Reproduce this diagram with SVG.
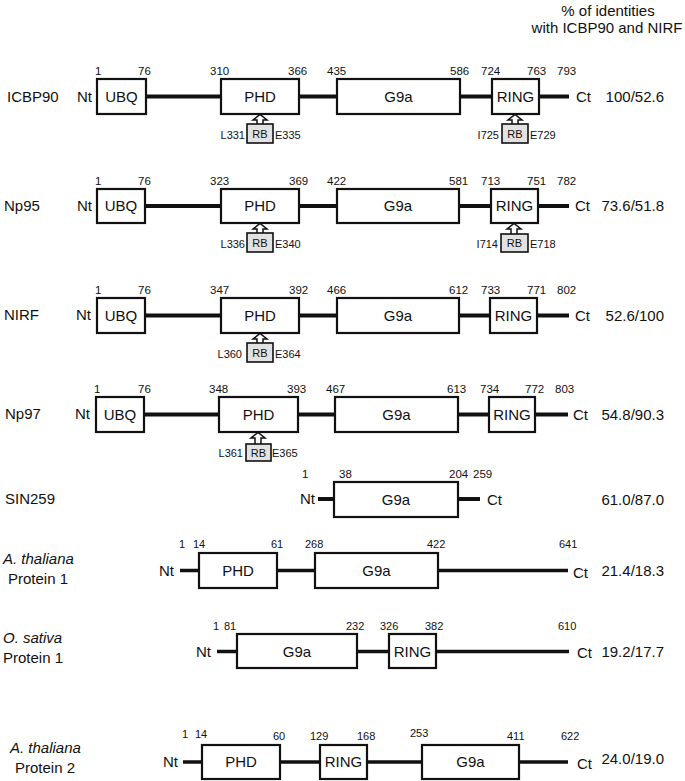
<svg xmlns="http://www.w3.org/2000/svg" width="685" height="781" viewBox="0 0 685 781">
<style>
text{font-family:"Liberation Sans",Arial,Helvetica,sans-serif;fill:#111}
.lbl{font-size:15px}
.dom{font-size:15px;text-anchor:middle}
.num{font-size:11.5px;fill:#222}
.nums{font-size:11px;fill:#222}
.rbt{font-size:11px}
.rbi{font-size:11px;text-anchor:middle}
.rat{font-size:15px;text-anchor:end}
.it{font-style:italic}
.box{fill:#fff;stroke:#111;stroke-width:2.2}
.rb{fill:#e2e2e2;stroke:#111;stroke-width:1.6}
.bb{stroke:#111;stroke-width:4.2;fill:none}
.bb2{stroke:#111;stroke-width:3.4;fill:none}
.arr{fill:#fff;stroke:#111;stroke-width:1.5;stroke-linejoin:miter}
</style>

<text class="lbl" x="608" y="16" text-anchor="middle">% of identities</text>
<text class="lbl" x="607" y="33" text-anchor="middle">with ICBP90 and NIRF</text>

<g id="connectors">
  <line class="bb" x1="146" y1="96.5" x2="569" y2="96.5"/>
  <line class="bb" x1="145" y1="206" x2="569" y2="206"/>
  <line class="bb" x1="145" y1="315.5" x2="569" y2="315.5"/>
  <line class="bb" x1="144" y1="414.5" x2="568" y2="414.5"/>
  <line class="bb" x1="318" y1="499" x2="480" y2="499"/>
  <line class="bb2" x1="180" y1="570.5" x2="568" y2="570.5"/>
  <line class="bb2" x1="217" y1="651.5" x2="569" y2="651.5"/>
  <line class="bb2" x1="183" y1="762" x2="568" y2="762"/>
  <path class="arr" d="M257,124 V120 H253 L260,114.5 L267,120 H263 V124"/>
  <path class="arr" d="M512,124 V120 H508 L515,114.5 L522,120 H518 V124"/>
  <path class="arr" d="M257,233 V229 H253 L260,223.5 L267,229 H263 V233"/>
  <path class="arr" d="M511,234 V229 H507 L514,223.5 L521,229 H517 V234"/>
  <path class="arr" d="M257,343 V339 H253 L260,333.5 L267,339 H263 V343"/>
  <path class="arr" d="M255,444 V438 H251 L258,432.5 L265,438 H261 V444"/>
</g>

<g id="row-icbp90">
  <text class="lbl" x="7" y="102">ICBP90</text>
  <text class="lbl" x="77" y="102">Nt</text>
  <g id="icbp90-ubq"><rect class="box" x="97" y="79" width="49" height="35"/><text class="dom" x="121.5" y="102">UBQ</text></g>
  <g id="icbp90-phd"><rect class="box" x="221" y="79" width="78" height="35"/><text class="dom" x="260" y="102">PHD</text></g>
  <g id="icbp90-g9a"><rect class="box" x="337" y="79" width="123" height="35"/><text class="dom" x="398.5" y="102">G9a</text></g>
  <g id="icbp90-ring"><rect class="box" x="492" y="79" width="47" height="35"/><text class="dom" x="515.5" y="102">RING</text></g>
  <text class="lbl" x="576" y="102">Ct</text>
  <text class="rat" x="664" y="102">100/52.6</text>
  <g class="num">
    <text x="95" y="75">1</text><text x="138" y="75">76</text><text x="210" y="75">310</text><text x="288" y="75">366</text><text x="327" y="75">435</text>
    <text x="450" y="75">586</text><text x="481" y="75">724</text><text x="527" y="75">763</text><text x="557" y="75">793</text>
  </g>
  <g id="icbp90-rb1"><rect class="rb" x="247" y="124" width="26" height="19"/><text class="rbi" x="260" y="138">RB</text></g>
  <text class="rbt" x="245" y="139" text-anchor="end">L331</text><text class="rbt" x="275" y="139">E335</text>
  <g id="icbp90-rb2"><rect class="rb" x="502" y="124" width="26" height="19"/><text class="rbi" x="515" y="138">RB</text></g>
  <text class="rbt" x="499" y="139" text-anchor="end">I725</text><text class="rbt" x="530" y="139">E729</text>
</g>

<g id="row-np95">
  <text class="lbl" x="4" y="211">Np95</text>
  <text class="lbl" x="77" y="211">Nt</text>
  <g id="np95-ubq"><rect class="box" x="97" y="189" width="48" height="34"/><text class="dom" x="121" y="211">UBQ</text></g>
  <g id="np95-phd"><rect class="box" x="221" y="189" width="78" height="34"/><text class="dom" x="260" y="211">PHD</text></g>
  <g id="np95-g9a"><rect class="box" x="337" y="189" width="122" height="34"/><text class="dom" x="398" y="211">G9a</text></g>
  <g id="np95-ring"><rect class="box" x="491" y="189" width="47" height="34"/><text class="dom" x="514.5" y="211">RING</text></g>
  <text class="lbl" x="575" y="211">Ct</text>
  <text class="rat" x="664" y="211">73.6/51.8</text>
  <g class="num">
    <text x="95" y="185">1</text><text x="138" y="185">76</text><text x="210" y="185">323</text><text x="289" y="185">369</text><text x="327" y="185">422</text>
    <text x="449" y="185">581</text><text x="481" y="185">713</text><text x="527" y="185">751</text><text x="557" y="185">782</text>
  </g>
  <g id="np95-rb1"><rect class="rb" x="247" y="233" width="26" height="19"/><text class="rbi" x="260" y="247">RB</text></g>
  <text class="rbt" x="245" y="248" text-anchor="end">L336</text><text class="rbt" x="275" y="248">E340</text>
  <g id="np95-rb2"><rect class="rb" x="501" y="234" width="27" height="18"/><text class="rbi" x="514.5" y="247">RB</text></g>
  <text class="rbt" x="498" y="248" text-anchor="end">I714</text><text class="rbt" x="530" y="248">E718</text>
</g>

<g id="row-nirf">
  <text class="lbl" x="4" y="320">NIRF</text>
  <text class="lbl" x="76" y="320">Nt</text>
  <g id="nirf-ubq"><rect class="box" x="97" y="298" width="48" height="35"/><text class="dom" x="121" y="321">UBQ</text></g>
  <g id="nirf-phd"><rect class="box" x="221" y="298" width="78" height="35"/><text class="dom" x="260" y="321">PHD</text></g>
  <g id="nirf-g9a"><rect class="box" x="337" y="298" width="122" height="35"/><text class="dom" x="398" y="321">G9a</text></g>
  <g id="nirf-ring"><rect class="box" x="490" y="298" width="47" height="35"/><text class="dom" x="513.5" y="321">RING</text></g>
  <text class="lbl" x="575" y="321">Ct</text>
  <text class="rat" x="664" y="321">52.6/100</text>
  <g class="num">
    <text x="95" y="294">1</text><text x="138" y="294">76</text><text x="210" y="294">347</text><text x="289" y="294">392</text><text x="327" y="294">466</text>
    <text x="449" y="294">612</text><text x="481" y="294">733</text><text x="527" y="294">771</text><text x="557" y="294">802</text>
  </g>
  <g id="nirf-rb1"><rect class="rb" x="247" y="343" width="26" height="19"/><text class="rbi" x="260" y="357">RB</text></g>
  <text class="rbt" x="242" y="358" text-anchor="end">L360</text><text class="rbt" x="275" y="358">E364</text>
</g>

<g id="row-np97">
  <text class="lbl" x="5" y="419">Np97</text>
  <text class="lbl" x="75" y="419">Nt</text>
  <g id="np97-ubq"><rect class="box" x="96" y="397" width="48" height="35"/><text class="dom" x="120" y="420">UBQ</text></g>
  <g id="np97-phd"><rect class="box" x="219" y="397" width="79" height="35"/><text class="dom" x="258.5" y="420">PHD</text></g>
  <g id="np97-g9a"><rect class="box" x="335" y="397" width="123" height="35"/><text class="dom" x="396.5" y="420">G9a</text></g>
  <g id="np97-ring"><rect class="box" x="489" y="397" width="46" height="35"/><text class="dom" x="512" y="420">RING</text></g>
  <text class="lbl" x="573" y="420">Ct</text>
  <text class="rat" x="664" y="420">54.8/90.3</text>
  <g class="num">
    <text x="94" y="393">1</text><text x="138" y="393">76</text><text x="209" y="393">348</text><text x="287" y="393">393</text><text x="326" y="393">467</text>
    <text x="447" y="393">613</text><text x="480" y="393">734</text><text x="525" y="393">772</text><text x="555" y="393">803</text>
  </g>
  <g id="np97-rb1"><rect class="rb" x="246" y="444" width="25" height="17"/><text class="rbi" x="258.5" y="457">RB</text></g>
  <text class="rbt" x="243" y="457" text-anchor="end">L361</text><text class="rbt" x="272" y="457">E365</text>
</g>

<g id="row-sin259">
  <text class="lbl" x="5" y="504">SIN259</text>
  <text class="lbl" x="300" y="504">Nt</text>
  <g id="sin259-g9a"><rect class="box" x="334" y="482" width="124" height="35"/><text class="dom" x="396" y="505">G9a</text></g>
  <text class="lbl" x="487" y="505">Ct</text>
  <text class="rat" x="664" y="505">61.0/87.0</text>
  <g class="num">
    <text x="302" y="478">1</text><text x="339" y="478">38</text><text x="449" y="478">204</text><text x="473" y="478">259</text>
  </g>
</g>

<g id="row-at1">
  <text class="lbl it" x="3" y="564">A. thaliana</text>
  <text class="lbl" x="8" y="584">Protein 1</text>
  <text class="lbl" x="159" y="576">Nt</text>
  <g id="at1-phd"><rect class="box" x="199" y="553" width="78" height="35"/><text class="dom" x="238" y="576">PHD</text></g>
  <g id="at1-g9a"><rect class="box" x="315" y="553" width="123" height="35"/><text class="dom" x="376.5" y="576">G9a</text></g>
  <text class="lbl" x="573" y="578">Ct</text>
  <text class="rat" x="664" y="576">21.4/18.3</text>
  <g class="nums">
    <text x="179" y="548">1</text><text x="193" y="548">14</text><text x="271" y="548">61</text><text x="305" y="548">268</text><text x="427" y="548">422</text><text x="559" y="548">641</text>
  </g>
</g>

<g id="row-os1">
  <text class="lbl it" x="3" y="643">O. sativa</text>
  <text class="lbl" x="3" y="663">Protein 1</text>
  <text class="lbl" x="196" y="657">Nt</text>
  <g id="os1-g9a"><rect class="box" x="237" y="634" width="120" height="34"/><text class="dom" x="297" y="657">G9a</text></g>
  <g id="os1-ring"><rect class="box" x="389" y="634" width="47" height="34"/><text class="dom" x="412.5" y="657">RING</text></g>
  <text class="lbl" x="577" y="658">Ct</text>
  <text class="rat" x="664" y="657">19.2/17.7</text>
  <g class="nums">
    <text x="213" y="630">1</text><text x="224" y="630">81</text><text x="346" y="630">232</text><text x="380" y="630">326</text><text x="425" y="630">382</text><text x="558" y="630">610</text>
  </g>
</g>

<g id="row-at2">
  <text class="lbl it" x="10" y="753">A. thaliana</text>
  <text class="lbl" x="15" y="773">Protein 2</text>
  <text class="lbl" x="163" y="767">Nt</text>
  <g id="at2-phd"><rect class="box" x="202" y="745" width="78" height="34"/><text class="dom" x="241" y="767">PHD</text></g>
  <g id="at2-ring"><rect class="box" x="320" y="745" width="47" height="34"/><text class="dom" x="343.5" y="767">RING</text></g>
  <g id="at2-g9a"><rect class="box" x="422" y="745" width="97" height="34"/><text class="dom" x="470.5" y="767">G9a</text></g>
  <text class="lbl" x="577" y="769">Ct</text>
  <text class="rat" x="664" y="764">24.0/19.0</text>
  <g class="nums">
    <text x="182" y="738">1</text><text x="195" y="738">14</text><text x="273" y="740">60</text><text x="310" y="740">129</text><text x="357" y="740">168</text><text x="410" y="737">253</text><text x="507" y="740">411</text><text x="561" y="740">622</text>
  </g>
</g>
</svg>
